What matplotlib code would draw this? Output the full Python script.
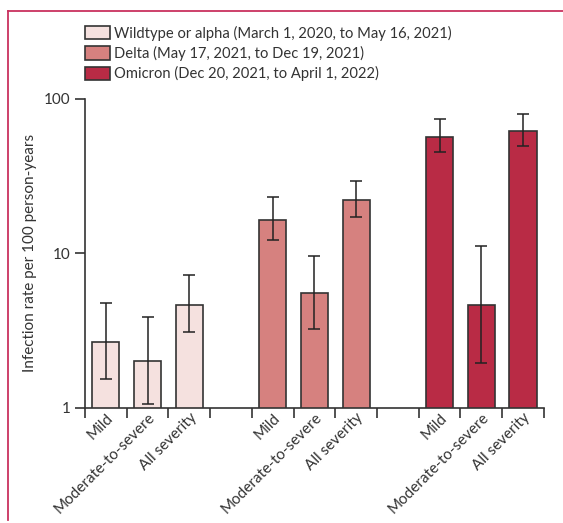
import matplotlib.pyplot as plt
from matplotlib.lines import Line2D
from matplotlib.patches import Patch
import numpy as np

plt.rcParams['font.family'] = ['Lato', 'DejaVu Sans']

periods = ["Wildtype or alpha (March 1, 2020, to May 16, 2021)",
           "Delta (May 17, 2021, to Dec 19, 2021)",
           "Omicron (Dec 20, 2021, to April 1, 2022)"]
severity = ["Mild", "Moderate-to-severe", "All severity"]

rate = [[2.66, 2.0, 4.64],
        [16.5, 5.52, 22.0],
        [57.0, 4.62, 62.1]]
lower = [[1.54, 1.06, 3.09],
         [12.2, 3.24, 17.1],
         [45.4, 1.96, 49.4]]
upper = [[4.78, 3.88, 7.26],
         [23.0, 9.68, 29.6],
         [74.3, 11.2, 80.3]]

colors = ["#f5e1df", "#d6817f", "#b92b45"]

fig = plt.figure(figsize=(5.63, 5.23), dpi=100)
ax = fig.add_axes([0.151, 0.22, 0.815, 0.591])

xpos = []
xlab = []
for g in range(3):
    x = np.arange(3) + 4 * g
    r = np.array(rate[g])
    err = np.array([r - np.array(lower[g]), np.array(upper[g]) - r])
    ax.bar(x, r, width=0.65, color=colors[g], edgecolor="#333333", linewidth=1.2,
           zorder=2)
    ax.errorbar(x, r, yerr=err, fmt="none", ecolor="#222222", elinewidth=1.1,
                capsize=4, capthick=1.1, zorder=3)
    xpos += list(x)
    xlab += severity

ax.set_yscale("log")
ax.set_ylim(1, 100)
ax.set_xlim(-0.5, 10.5)
ax.set_yticks([1, 10, 100])
ax.set_yticklabels(["1", "10", "100"])
ax.yaxis.set_minor_locator(plt.NullLocator())
ax.tick_params(axis="y", length=7, width=1.2, labelsize=11, colors="#333333")
ax.set_ylabel("Infection rate per 100 person-years", fontsize=11, color="#333333",
              labelpad=5)

# ticks sit at the cell boundaries, labels at the bars
ax.set_xticks(np.arange(-0.5, 11, 1))
ax.set_xticklabels([])
ax.set_xticks(xpos, minor=True)
ax.set_xticklabels(xlab, minor=True, rotation=45, ha="right", rotation_mode="anchor",
                   fontsize=11, color="#333333")
ax.tick_params(axis="x", which="major", length=7, width=1.2, color="#333333")
ax.tick_params(axis="x", which="minor", length=0, pad=2)

for s in ["top", "right"]:
    ax.spines[s].set_visible(False)
for s in ["left", "bottom"]:
    ax.spines[s].set_linewidth(1.2)
    ax.spines[s].set_color("#333333")

handles = [Patch(facecolor=c, edgecolor="#333333", linewidth=1.2) for c in colors]
fig.legend(handles, periods, loc="upper left", bbox_to_anchor=(0.14, 0.962),
           frameon=False, fontsize=10.6, handlelength=1.7, handleheight=1.0,
           handletextpad=0.3, labelspacing=0.35, borderaxespad=0,
           labelcolor="#333333")

# page frame
fig.add_artist(Line2D([0.0142, 0.0142], [0.005, 0.979], color="#c9325f", lw=1.3))
fig.add_artist(Line2D([0.0142, 1.0], [0.979, 0.979], color="#c9325f", lw=1.3))

fig.savefig("out.png", dpi=100)
